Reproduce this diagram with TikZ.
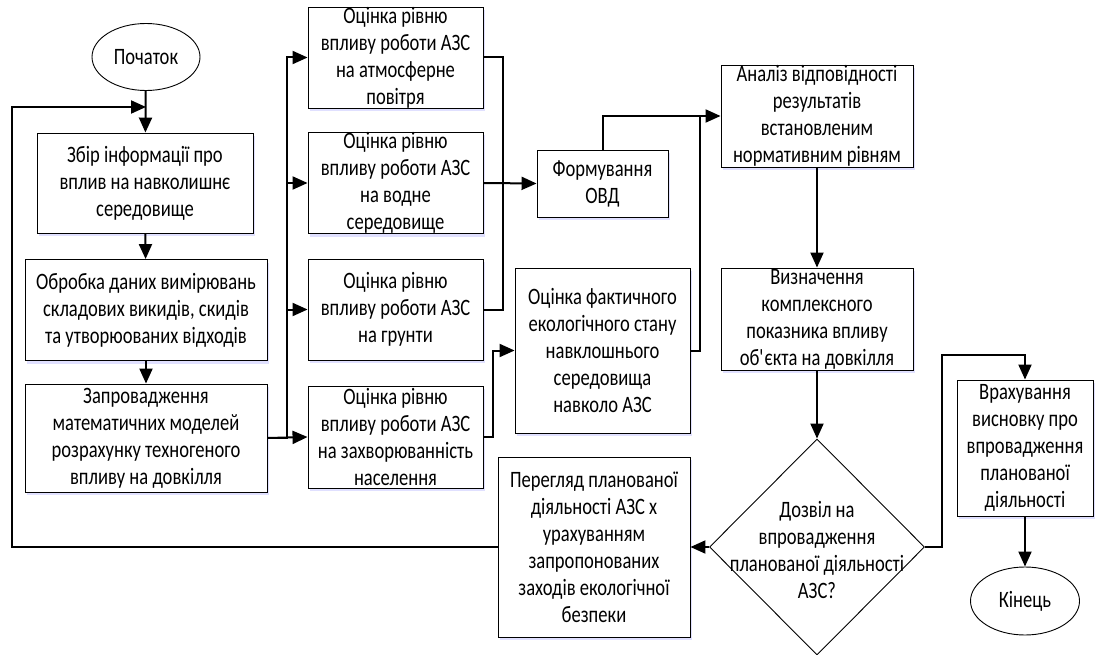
\documentclass[tikz,border=0pt]{standalone}
\usepackage{fontspec}
\setmainfont{Carlito}[FakeStretch=0.79]
\usetikzlibrary{arrows.meta,shapes.geometric,shadows,calc}
\begin{document}
\begin{tikzpicture}[x=1pt,y=-1pt,
  font=\fontsize{23.5}{27}\selectfont,
  box/.style={draw=black,line width=0.9pt,fill=white,align=center,inner sep=0pt,
    drop shadow={shadow xshift=2pt,shadow yshift=-3pt,fill=blue!30,opacity=0.4}},
  term/.style={draw=black,line width=0.9pt,fill=white,ellipse,inner sep=0pt},
  txt/.style={align=center,inner sep=0pt},
  conn/.style={line width=2pt},
  arr/.style={line width=2pt,-{Triangle[length=15pt,width=13pt]}}]
\useasboundingbox (0,0) rectangle (1095,655);

\node[term,minimum width=108,minimum height=67] (start) at (146,57) {Початок};
\node[box,minimum width=216,minimum height=100] (b1) at (145,183) {Збір інформації про\\вплив на навколишнє\\середовище};
\node[box,minimum width=242,minimum height=101] (b2) at (146,310) {Обробка даних вимірювань\\складових викидів, скидів\\та утворюованих відходів};
\node[box,minimum width=242,minimum height=108] (b3) at (146,438) {Запровадження\\математичних моделей\\розрахунку техногеного\\впливу на довкілля};

\node[box,minimum width=175,minimum height=101] (A) at (395.5,57.5) {Оцінка рівню\\впливу роботи АЗС\\на атмосферне\\повітря};
\node[box,minimum width=175,minimum height=100] (B) at (395.5,183) {Оцінка рівню\\впливу роботи АЗС\\на водне\\середовище};
\node[box,minimum width=175,minimum height=101] (C) at (395.5,309.5) {Оцінка рівню\\впливу роботи АЗС\\на грунти};
\node[box,minimum width=175,minimum height=102] (D) at (395.5,437) {Оцінка рівню\\впливу роботи АЗС\\на захворюванність\\населення};

\node[box,minimum width=131,minimum height=67] (F) at (602.5,183.5) {Формування\\ОВД};
\node[box,minimum width=175,minimum height=165] (OF) at (602.5,350.5) {Оцінка фактичного\\екологічного стану\\навклошнього\\середовища\\навколо АЗС};
\node[box,minimum width=192,minimum height=180] (P) at (594,547) {Перегляд планованої\\діяльності АЗС х\\урахуванням\\запропонованих\\заходів екологічної\\безпеки};

\node[box,minimum width=192,minimum height=102] (AN) at (817,116) {Аналіз відповідності\\результатів\\встановленим\\нормативним рівням};
\node[box,minimum width=192,minimum height=102] (V) at (817,319) {Визначення\\комплексного\\показника впливу\\об\textquotesingle єкта на довкілля};

\node[draw=black,line width=0.9pt,fill=white,diamond,inner sep=0pt,minimum width=215,minimum height=216] (dia) at (817,547) {};
\node[txt] (diatext) at (817,550) {Дозвіл на\\впровадження\\планованої діяльності\\АЗС?};

\node[box,minimum width=136,minimum height=136] (W) at (1025,448) {Врахування\\висновку про\\впровадження\\планованої\\діяльності};
\node[term,minimum width=109,minimum height=68] (end) at (1025,601) {Кінець};

\coordinate (loopend) at (146,107);
\coordinate (j2) at (700,116);

% left column
\draw[arr] (start) -- (b1);
\draw[arr] (b1) -- (b2);
\draw[arr] (b2) -- (b3);

% bus to second column
\draw[arr] (b3.east) -- ++(20,0) |- (A.west);
\draw[arr] (b3.east) -- ++(20,0) |- (B.west);
\draw[arr] (b3.east) -- ++(20,0) |- (C.west);
\draw[arr] (b3.east) -- (D.west);

% collect from A, B, C
\draw[conn] (A.east) -- ++(20,0) |- (C.east);
\draw[arr] (B.east) -- (F.west);
\draw[arr] (F.north) |- (AN.west);
\draw[conn] (OF.east) -| (j2);
\draw[arr] (D.east) -- ++(10,0) |- (OF.west);

% right column
\draw[arr] (AN) -- (V);
\draw[arr] (V.south) -- (dia.north);
\draw[arr] (dia.west) -- (P.east);
\draw[arr] (P.west) -- ++(-486,0) |- (loopend);
\draw[arr] (dia.east) -| ++(17,-192) -| (W.north);
\draw[arr] (W) -- (end);
\end{tikzpicture}
\end{document}
